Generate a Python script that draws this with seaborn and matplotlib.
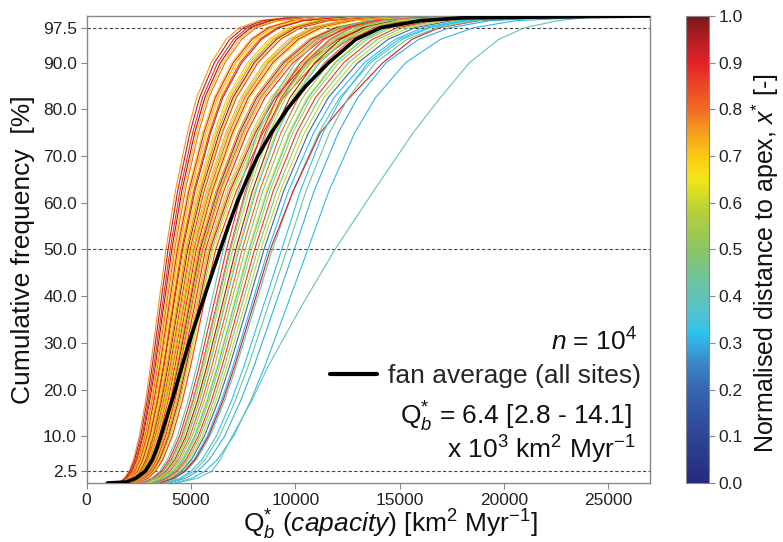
import matplotlib
matplotlib.use("Agg")
import matplotlib.pyplot as plt
from matplotlib.colors import LinearSegmentedColormap, Normalize
from matplotlib.cm import ScalarMappable
from matplotlib.lines import Line2D
import pandas as pd
import seaborn as sns

# cumulative frequency levels (%) at which every site's capacity is tabulated
levels = [0, 1, 2.5, 5, 10, 17.5, 25, 37.5, 50, 62.5, 75, 82.5, 90, 95, 97.5, 99, 100]

# normalised distance to apex x* of each site
site_xstar = [
    0.76, 0.95, 0.88, 0.97, 0.72, 0.80, 0.68, 0.90, 0.74, 0.66,
    0.84, 0.93, 0.70, 0.62, 0.78, 0.99, 0.67, 0.86, 0.73, 0.58,
    0.81, 0.69, 0.91, 0.64, 0.77, 0.96, 0.55, 0.83, 0.71, 0.89,
    0.60, 0.75, 0.94, 0.52, 0.66, 0.87,
    0.42, 0.88, 0.85, 0.58, 0.97, 0.33, 0.82, 0.50, 0.66, 0.56,
    0.20, 0.48, 0.60, 0.87, 0.31, 0.40, 0.45, 0.62, 0.35, 0.92,
    0.32, 0.43, 0.30, 0.31, 0.41,
]

# Q*_b capacity (km2 Myr-1) of each site at the levels above
site_q = [
    [1520, 1800, 2030, 2250, 2520, 2820, 3060, 3430, 3800, 4250, 4830, 5270, 5970, 6690, 7330, 8250, 10260],
    [1560, 1850, 2080, 2300, 2590, 2890, 3140, 3520, 3900, 4360, 4950, 5410, 6120, 6860, 7530, 8460, 10530],
    [1600, 1900, 2140, 2360, 2660, 2960, 3220, 3610, 4000, 4470, 5080, 5550, 6280, 7040, 7720, 8680, 10800],
    [1630, 1940, 2180, 2410, 2710, 3020, 3290, 3680, 4080, 4560, 5180, 5660, 6410, 7180, 7870, 8850, 11020],
    [1660, 1970, 2220, 2450, 2760, 3080, 3340, 3750, 4150, 4640, 5270, 5760, 6520, 7300, 8010, 9010, 11200],
    [1690, 2000, 2250, 2490, 2800, 3130, 3400, 3810, 4220, 4720, 5360, 5850, 6630, 7430, 8140, 9160, 11390],
    [1720, 2040, 2300, 2540, 2860, 3190, 3470, 3880, 4300, 4850, 5550, 6100, 6950, 7830, 8620, 9730, 12200],
    [1740, 2070, 2320, 2570, 2890, 3220, 3510, 3930, 4350, 4900, 5620, 6170, 7030, 7920, 8720, 9850, 12340],
    [1770, 2100, 2360, 2610, 2930, 3280, 3560, 3990, 4420, 4980, 5710, 6270, 7140, 8050, 8860, 10010, 12540],
    [1790, 2130, 2390, 2650, 2970, 3320, 3610, 4050, 4480, 5050, 5790, 6350, 7240, 8160, 8980, 10140, 12710],
    [1820, 2160, 2430, 2690, 3020, 3370, 3670, 4110, 4550, 5130, 5880, 6450, 7350, 8280, 9120, 10300, 12900],
    [1840, 2190, 2460, 2720, 3050, 3410, 3710, 4150, 4600, 5190, 5940, 6520, 7430, 8380, 9220, 10410, 13050],
    [1860, 2210, 2490, 2750, 3090, 3450, 3760, 4210, 4660, 5290, 6110, 6730, 7710, 8730, 9640, 10930, 13770],
    [1890, 2240, 2520, 2790, 3130, 3500, 3800, 4260, 4720, 5360, 6190, 6820, 7810, 8850, 9770, 11070, 13950],
    [1910, 2270, 2550, 2830, 3170, 3540, 3850, 4320, 4780, 5430, 6260, 6910, 7910, 8960, 9890, 11210, 14120],
    [1940, 2300, 2590, 2870, 3220, 3590, 3910, 4380, 4850, 5510, 6360, 7010, 8030, 9090, 10040, 11380, 14330],
    [1960, 2330, 2620, 2900, 3250, 3630, 3950, 4420, 4900, 5560, 6420, 7080, 8110, 9180, 10140, 11490, 14480],
    [1980, 2360, 2650, 2930, 3290, 3680, 4000, 4480, 4960, 5630, 6500, 7170, 8210, 9300, 10260, 11630, 14660],
    [2010, 2380, 2680, 2970, 3330, 3720, 4050, 4530, 5020, 5740, 6670, 7390, 8510, 9670, 10720, 12180, 15430],
    [2030, 2410, 2710, 3000, 3370, 3760, 4090, 4590, 5080, 5810, 6750, 7480, 8610, 9790, 10850, 12330, 15620],
    [2060, 2440, 2740, 3040, 3410, 3810, 4140, 4640, 5140, 5880, 6830, 7570, 8710, 9900, 10970, 12470, 15800],
    [2080, 2470, 2780, 3070, 3450, 3850, 4190, 4700, 5200, 5950, 6910, 7650, 8810, 10020, 11100, 12620, 15980],
    [2100, 2500, 2810, 3110, 3490, 3900, 4240, 4750, 5260, 6020, 6990, 7740, 8920, 10140, 11230, 12770, 16170],
    [2130, 2530, 2840, 3140, 3530, 3940, 4290, 4800, 5320, 6090, 7070, 7830, 9020, 10250, 11360, 12910, 16350],
    [2150, 2560, 2870, 3180, 3570, 3990, 4340, 4860, 5380, 6200, 7250, 8060, 9330, 10650, 11840, 13500, 17180],
    [2180, 2580, 2910, 3220, 3610, 4030, 4380, 4910, 5440, 6270, 7330, 8150, 9440, 10770, 11970, 13650, 17370],
    [2200, 2610, 2940, 3250, 3650, 4080, 4430, 4970, 5500, 6340, 7410, 8240, 9540, 10890, 12100, 13800, 17560],
    [2220, 2640, 2970, 3290, 3690, 4120, 4480, 5020, 5560, 6400, 7490, 8330, 9650, 11010, 12230, 13950, 17750],
    [2250, 2670, 3000, 3320, 3730, 4160, 4530, 5070, 5620, 6470, 7580, 8420, 9750, 11130, 12360, 14100, 17940],
    [2280, 2710, 3040, 3370, 3780, 4220, 4590, 5150, 5700, 6570, 7680, 8540, 9890, 11290, 12540, 14300, 18200],
    [2310, 2750, 3090, 3420, 3840, 4280, 4660, 5220, 5780, 6700, 7900, 8820, 10260, 11760, 13090, 14980, 19140],
    [2340, 2780, 3120, 3460, 3880, 4330, 4720, 5280, 5850, 6790, 8000, 8930, 10380, 11900, 13250, 15160, 19380],
    [2370, 2810, 3160, 3500, 3930, 4390, 4770, 5350, 5920, 6870, 8090, 9030, 10510, 12040, 13410, 15340, 19610],
    [2400, 2850, 3200, 3550, 3980, 4450, 4840, 5420, 6000, 6960, 8200, 9160, 10650, 12200, 13590, 15550, 19870],
    [2430, 2890, 3250, 3590, 4040, 4510, 4900, 5490, 6080, 7050, 8310, 9280, 10790, 12370, 13770, 15750, 20140],
    [2470, 2940, 3300, 3650, 4100, 4580, 4980, 5580, 6180, 7170, 8450, 9430, 10970, 12570, 14000, 16010, 20470],
    [2620, 3110, 3500, 3870, 4350, 4850, 5280, 5910, 6550, 7280, 8190, 8920, 10020, 11140, 12120, 13490, 17030],
    [2680, 3180, 3580, 3960, 4450, 4960, 5400, 6050, 6700, 7440, 8380, 9130, 10250, 11390, 12400, 13800, 17420],
    [2740, 3250, 3660, 4050, 4550, 5080, 5520, 6190, 6850, 7610, 8560, 9330, 10480, 11640, 12670, 14110, 17810],
    [2800, 3330, 3740, 4140, 4650, 5190, 5640, 6320, 7000, 7780, 8750, 9530, 10710, 11900, 12950, 14420, 18200],
    [2860, 3400, 3820, 4230, 4750, 5300, 5760, 6460, 7150, 7940, 8940, 9740, 10940, 12160, 13230, 14730, 18590],
    [2920, 3470, 3900, 4310, 4850, 5410, 5880, 6590, 7300, 8110, 9130, 9940, 11170, 12410, 13510, 15040, 18980],
    [2980, 3540, 3980, 4400, 4950, 5520, 6000, 6730, 7450, 8280, 9310, 10150, 11400, 12670, 13780, 15350, 19370],
    [3040, 3610, 4060, 4490, 5050, 5630, 6130, 6860, 7600, 8440, 9500, 10350, 11630, 12920, 14060, 15660, 19760],
    [3100, 3680, 4140, 4580, 5150, 5740, 6250, 7000, 7750, 8610, 9690, 10560, 11860, 13180, 14340, 15970, 20150],
    [3160, 3750, 4220, 4670, 5250, 5850, 6370, 7130, 7900, 8780, 9880, 10760, 12090, 13430, 14620, 16270, 20540],
    [3400, 4040, 4540, 5020, 5640, 6300, 6850, 7680, 8500, 9440, 10630, 11580, 13000, 14450, 15730, 17510, 22100],
    [3280, 3900, 4380, 4850, 5440, 6080, 6610, 7400, 8200, 9110, 10250, 11170, 12550, 13940, 15170, 16890, 21320],
    [3340, 3970, 4460, 4930, 5540, 6190, 6730, 7540, 8350, 9280, 10440, 11370, 12780, 14200, 15450, 17200, 21710],
    [3220, 3820, 4300, 4760, 5350, 5970, 6490, 7270, 8050, 8940, 10060, 10960, 12320, 13690, 14890, 16580, 20930],
    [3480, 4130, 4650, 5140, 5780, 6450, 7010, 7860, 8700, 9670, 10880, 11850, 13310, 14790, 16100, 17920, 22620],
    [3560, 4230, 4750, 5260, 5910, 6600, 7170, 8040, 8900, 9890, 11130, 12120, 13620, 15130, 16470, 18330, 23140],
    [2760, 3280, 3680, 4080, 4580, 5110, 5560, 6230, 6900, 7670, 8630, 9400, 10560, 11730, 12770, 14210, 17940],
    [2900, 3440, 3870, 4280, 4810, 5370, 5840, 6550, 7250, 8060, 9060, 9870, 11090, 12330, 13410, 14940, 18850],
    [3120, 3700, 4170, 4610, 5180, 5780, 6290, 7040, 7800, 8670, 9750, 10620, 11930, 13260, 14430, 16070, 20280],
    [3520, 4180, 4700, 5200, 5840, 6520, 7090, 7950, 8800, 9900, 11200, 12600, 14200, 15600, 16900, 18800, 23000],
    [3740, 4440, 4990, 5530, 6210, 6930, 7540, 8440, 9350, 10240, 11330, 12210, 13480, 14960, 16360, 18170, 22440],
    [3840, 4560, 5130, 5670, 6370, 7110, 7740, 8670, 9600, 10510, 11640, 12540, 13840, 15360, 16800, 18650, 23040],
    [3980, 4730, 5310, 5880, 6610, 7370, 8020, 8990, 9950, 10900, 12060, 12990, 14350, 15920, 17410, 19330, 23880],
    [4240, 5040, 5660, 6260, 7040, 7850, 8540, 9570, 10600, 11610, 12850, 13840, 15290, 16960, 18550, 20600, 25440],
    [4300, 5300, 6000, 6400, 6970, 7900, 8700, 10250, 11900, 13750, 15650, 16950, 18350, 19750, 21000, 22600, 24600],
]

# fan average over all sites
avg_levels = [0, 0.2, 1, 2.5, 5, 7.5, 10, 15, 20, 25, 30, 35, 40, 45, 50, 55, 60,
              65, 70, 75, 80, 85, 90, 95, 97.5, 99, 99.6, 100]
avg_q = [1000, 1900, 2350, 2800, 3150, 3370, 3550, 3900, 4250, 4570, 4900, 5270,
         5650, 6020, 6400, 6790, 7200, 7680, 8200, 8850, 9600, 10500, 11600, 12900,
         14100, 16000, 18000, 27000]

# reference levels, ticks
ref_levels = [2.5, 50, 97.5]
y_ticks = [2.5, 10, 20, 30, 40, 50, 60, 70, 80, 90, 97.5]
x_ticks = [0, 5000, 10000, 15000, 20000, 25000]
cbar_ticks = [0.0, 0.1, 0.2, 0.3, 0.4, 0.5, 0.6, 0.7, 0.8, 0.9, 1.0]

# colour scale for x*
cmap = LinearSegmentedColormap.from_list("apex", [
    (0.00, "#262a7a"), (0.10, "#2e4595"), (0.20, "#3665ae"), (0.26, "#3a8acb"),
    (0.32, "#2ec3ee"), (0.37, "#56c3cc"), (0.43, "#6cc3a2"), (0.50, "#8cc566"),
    (0.58, "#b4cf3a"), (0.65, "#f2e618"), (0.70, "#fbcb12"), (0.75, "#f7a01e"),
    (0.80, "#f26c22"), (0.85, "#ec4827"), (0.90, "#e52228"), (0.95, "#b61d23"),
    (1.00, "#781818"),
])
norm = Normalize(0, 1)

sns.set_theme(style="ticks")
plt.rcParams["font.family"] = ["Liberation Sans", "DejaVu Sans"]
plt.rcParams["mathtext.fontset"] = "custom"
plt.rcParams["mathtext.rm"] = "Liberation Sans"
plt.rcParams["mathtext.it"] = "Liberation Sans:italic"
plt.rcParams["mathtext.bf"] = "Liberation Sans:bold"

rows = []
site_names = []
for i, (xs, qs) in enumerate(zip(site_xstar, site_q)):
    name = f"site {i + 1:02d}"
    site_names.append(name)
    for lv, q in zip(levels, qs):
        rows.append({"site": name, "capacity": q, "freq": lv})
df = pd.DataFrame(rows)
palette = {name: cmap(norm(xs)) for name, xs in zip(site_names, site_xstar)}

fig = plt.figure(figsize=(7.83, 5.42), dpi=100)
ax = fig.add_axes([0.1107, 0.1089, 0.7194, 0.8616])
cax = fig.add_axes([686 / 783, 0.1089, 23 / 783, 0.8616])

for lv in ref_levels:
    ax.axhline(lv, color="#444444", lw=0.8, ls=(0, (3, 2)), zorder=1)

sns.lineplot(data=df, x="capacity", y="freq", hue="site", hue_order=site_names,
             palette=palette, estimator=None, sort=False, legend=False,
             linewidth=0.8, ax=ax, zorder=2)
sns.lineplot(x=avg_q, y=avg_levels, color="black", linewidth=2.6,
             estimator=None, sort=False, ax=ax, zorder=3)

ax.set_xlim(0, 27000)
ax.set_ylim(0, 100)
ax.set_xticks(x_ticks)
ax.set_xticklabels([f"{t}" for t in x_ticks])
ax.set_yticks(y_ticks)
ax.set_yticklabels([f"{t:.1f}" for t in y_ticks])
for sp in ax.spines.values():
    sp.set_visible(True)
    sp.set_color("#888888")
    sp.set_linewidth(1.0)
ax.tick_params(direction="out", length=4, width=0.8, color="#888888",
               labelsize=12.5, labelcolor="#222222", pad=3)

ax.set_ylabel("Cumulative frequency  [%]", fontsize=19, color="#111111", labelpad=6)
ax.set_xlabel(r"$\mathrm{Q}^{*}_{b}$ $\mathit{(capacity)}$ [km$^{2}$ Myr$^{-1}$]",
              fontsize=19, color="#111111")
ax.xaxis.set_label_coords(0.54, -0.053)

# summary of the fan average
q_med = avg_q[avg_levels.index(50)] / 1000
q_lo = avg_q[avg_levels.index(2.5)] / 1000
q_hi = avg_q[avg_levels.index(97.5)] / 1000

note_size = 19
ax.text(0.977, 0.283, r"$n$ = 10$^{4}$", transform=ax.transAxes,
        ha="right", va="baseline", fontsize=note_size, color="#111111")
handle = Line2D([], [], color="black", lw=3)
ax.legend([handle], ["fan average (all sites)"], loc="center right",
          bbox_to_anchor=(0.984, 0.229), frameon=False, fontsize=note_size,
          handlelength=1.8, handletextpad=0.4, borderpad=0, borderaxespad=0)
ax.text(0.968, 0.126, rf"$\mathrm{{Q}}^{{*}}_{{b}}$ = {q_med:.1f} [{q_lo:.1f} - {q_hi:.1f}]",
        transform=ax.transAxes, ha="right", va="baseline", fontsize=note_size, color="#111111")
ax.text(0.974, 0.052, r"x 10$^{3}$ km$^{2}$ Myr$^{-1}$", transform=ax.transAxes,
        ha="right", va="baseline", fontsize=note_size, color="#111111")

sm = ScalarMappable(norm=norm, cmap=cmap)
cbar = fig.colorbar(sm, cax=cax, ticks=cbar_ticks)
cbar.ax.set_yticklabels([f"{t:.1f}" for t in cbar_ticks])
cbar.outline.set_edgecolor("#888888")
cbar.outline.set_linewidth(0.8)
cbar.ax.tick_params(direction="out", length=4, width=0.8, color="#888888",
                    labelsize=12.5, labelcolor="#222222", pad=3)
cbar.set_label(r"Normalised distance to apex, $x^{*}$ [-]", fontsize=18,
               color="#111111")
cbar.ax.yaxis.set_label_coords(2.75, 0.47)

fig.savefig("out.png", dpi=100)
